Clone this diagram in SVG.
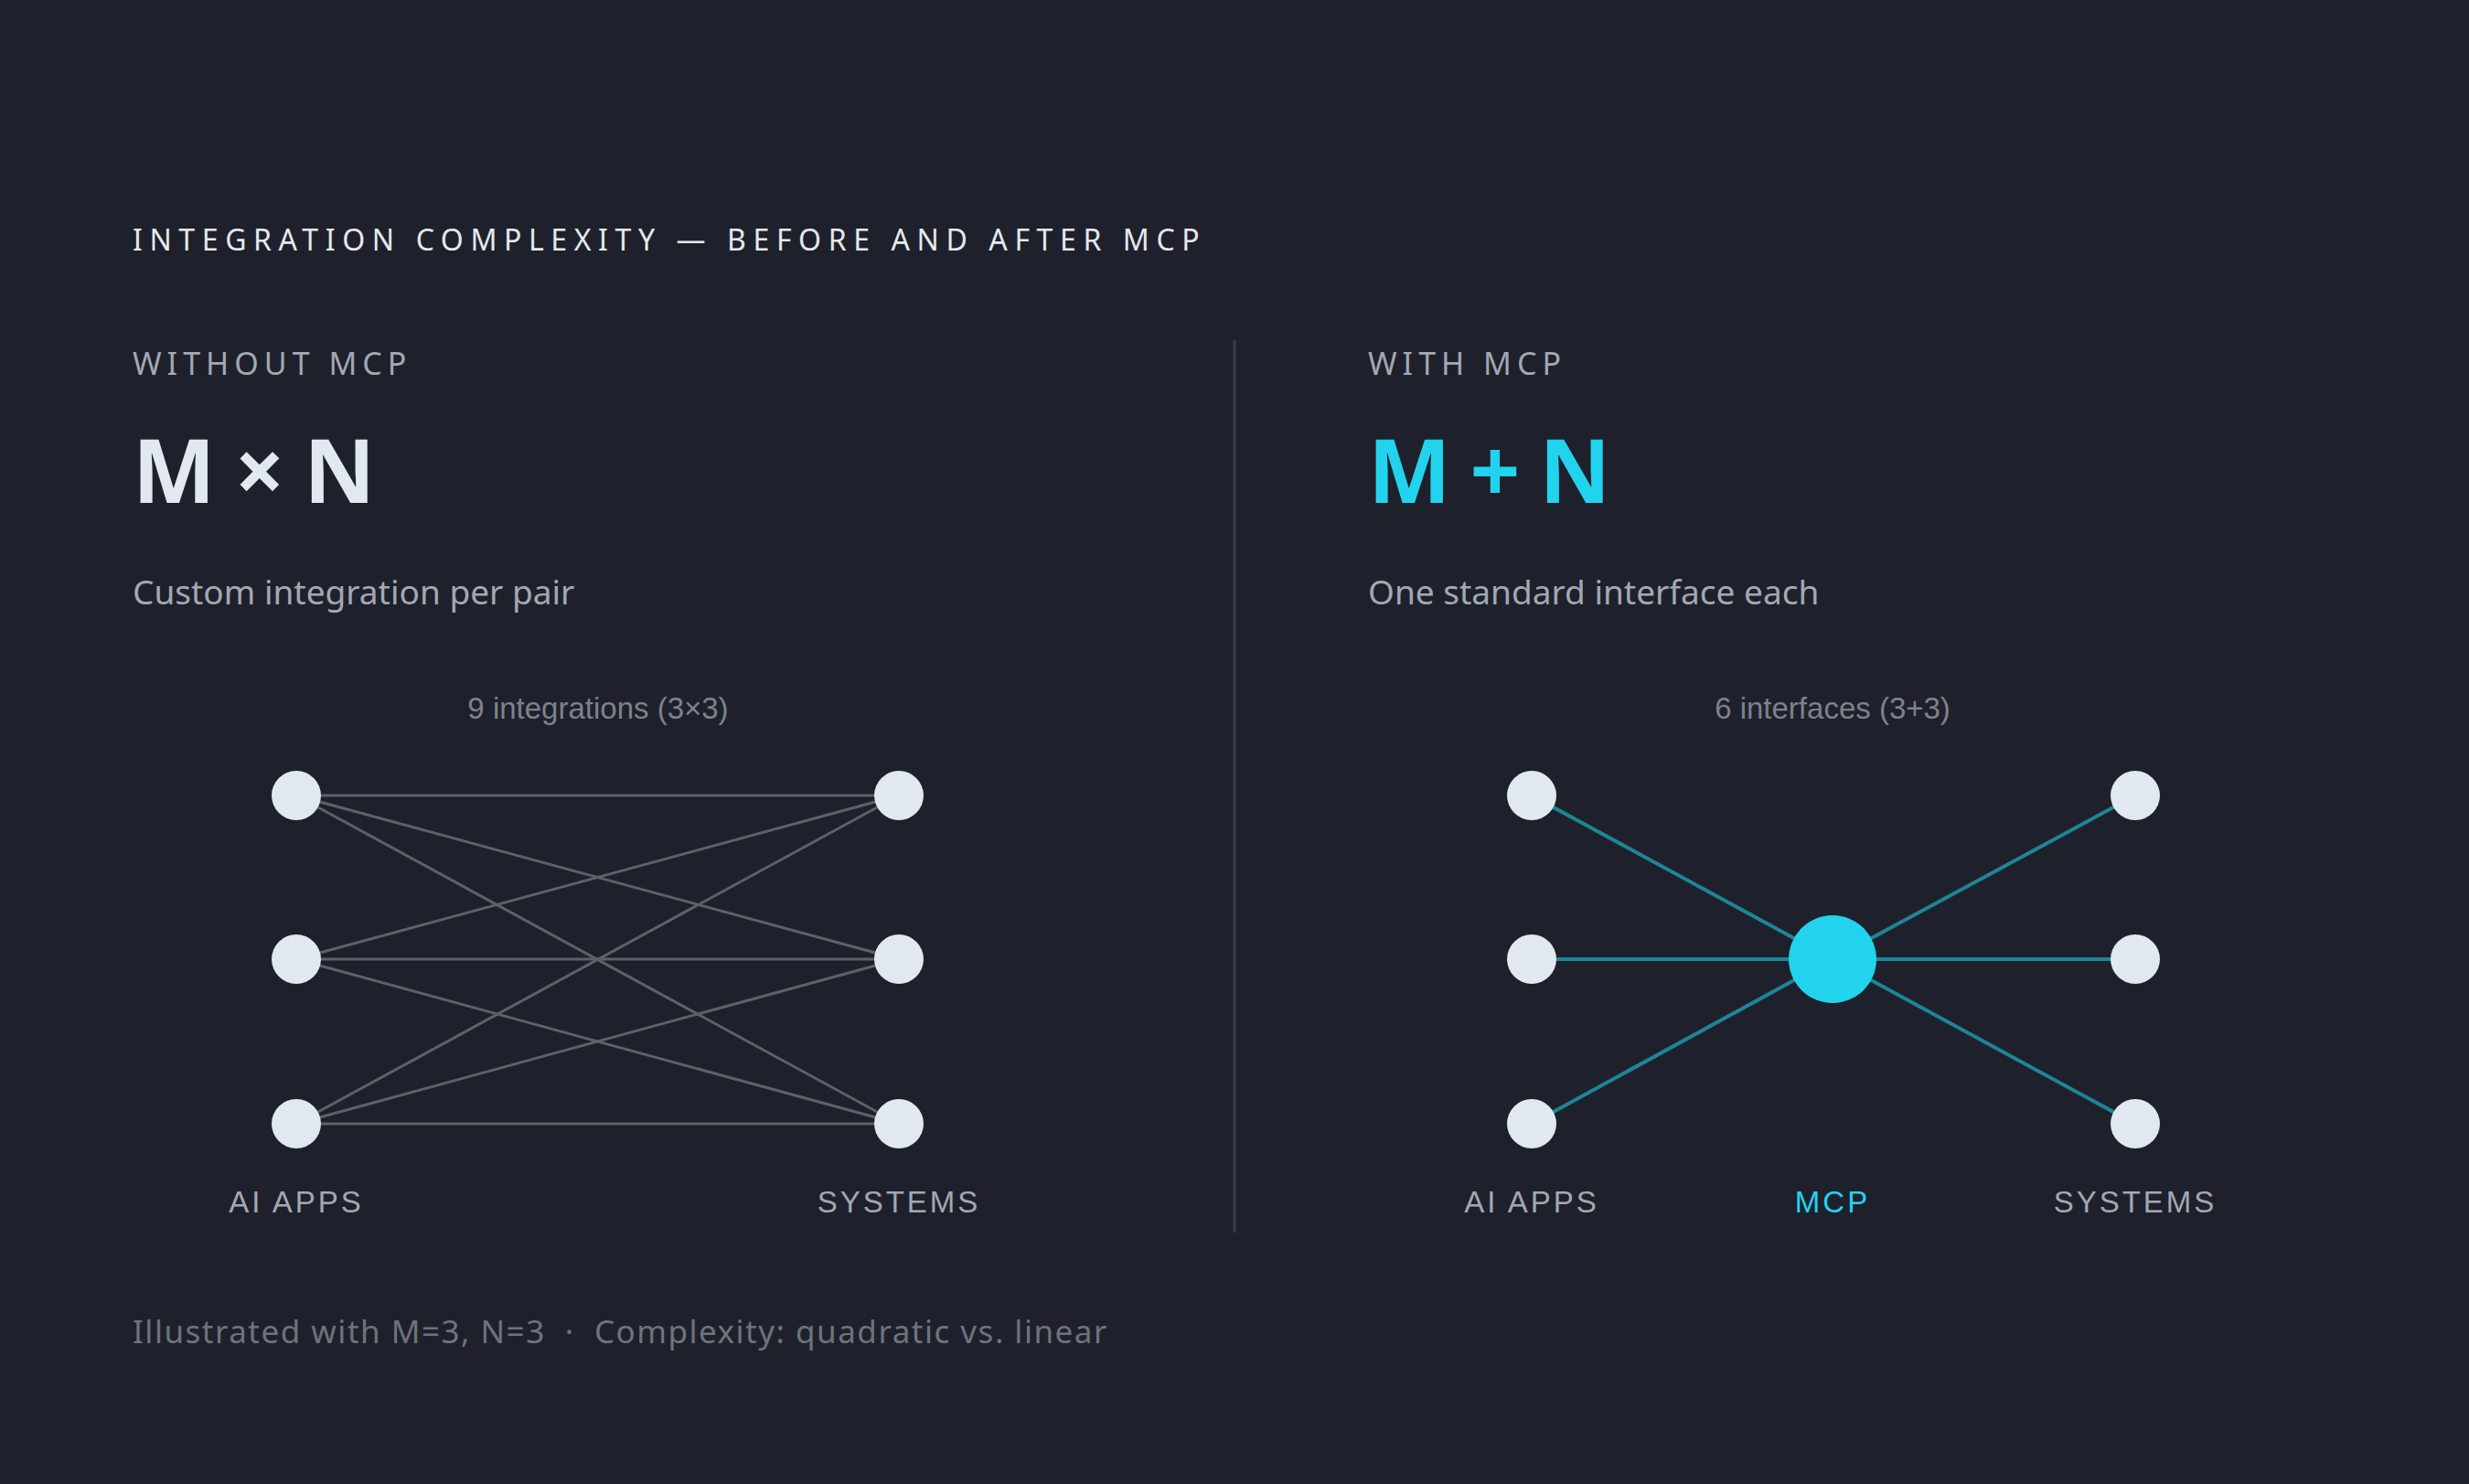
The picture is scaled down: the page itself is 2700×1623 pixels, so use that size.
<svg xmlns="http://www.w3.org/2000/svg" width="2700" height="1623" viewBox="0 0 2700 1623">
<style>
.t{font-family:"Noto Sans","Liberation Sans",sans-serif}
.cap{font-size:34px;fill:#a3a8b3;letter-spacing:6px}
.big{font-size:96px;font-weight:700;letter-spacing:-2px}
.sub{font-size:37px;fill:#a3a8b3}
.cnt{font-family:"Liberation Sans",sans-serif;font-size:33px;fill:#7d828c;text-anchor:middle}
.lbl{font-family:"Liberation Sans",sans-serif;font-size:33px;fill:#a3a8b3;letter-spacing:3px;text-anchor:middle}
.n{fill:#e2e8f0}
.gl{stroke:#5d6169;stroke-width:3}
.tl{stroke:#1e8597;stroke-width:4}
</style>
<rect width="2700" height="1623" fill="#1e212b"/>
<text class="t" x="145" y="274" font-size="32" fill="#e6e8ee" letter-spacing="7.6">INTEGRATION COMPLEXITY — BEFORE AND AFTER MCP</text>
<line x1="1350" y1="372" x2="1350" y2="1348" stroke="#3a3e48" stroke-width="3"/>
<text class="t cap" x="145" y="410">WITHOUT MCP</text>
<text class="t big" x="145" y="550" fill="#e2e8f0">M × N</text>
<text class="t sub" x="145" y="661">Custom integration per pair</text>
<text class="cnt" x="654" y="786">9 integrations (3×3)</text>
<text class="t cap" x="1496" y="410">WITH MCP</text>
<text class="t big" x="1496" y="550" fill="#22d3ee">M + N</text>
<text class="t sub" x="1496" y="661">One standard interface each</text>
<text class="cnt" x="2004" y="786">6 interfaces (3+3)</text>
<g id="connectors">
<g class="gl">
<line x1="324" y1="870" x2="983" y2="870"/><line x1="324" y1="870" x2="983" y2="1049"/><line x1="324" y1="870" x2="983" y2="1229"/>
<line x1="324" y1="1049" x2="983" y2="870"/><line x1="324" y1="1049" x2="983" y2="1049"/><line x1="324" y1="1049" x2="983" y2="1229"/>
<line x1="324" y1="1229" x2="983" y2="870"/><line x1="324" y1="1229" x2="983" y2="1049"/><line x1="324" y1="1229" x2="983" y2="1229"/>
</g>
<g class="tl">
<line x1="1675" y1="870" x2="2004" y2="1049"/><line x1="1675" y1="1049" x2="2004" y2="1049"/><line x1="1675" y1="1229" x2="2004" y2="1049"/>
<line x1="2335" y1="870" x2="2004" y2="1049"/><line x1="2335" y1="1049" x2="2004" y2="1049"/><line x1="2335" y1="1229" x2="2004" y2="1049"/>
</g>
</g>
<g id="left-apps"><circle class="n" cx="324" cy="870" r="27"/><circle class="n" cx="324" cy="1049" r="27"/><circle class="n" cx="324" cy="1229" r="27"/></g>
<g id="left-systems"><circle class="n" cx="983" cy="870" r="27"/><circle class="n" cx="983" cy="1049" r="27"/><circle class="n" cx="983" cy="1229" r="27"/></g>
<g id="right-apps"><circle class="n" cx="1675" cy="870" r="27"/><circle class="n" cx="1675" cy="1049" r="27"/><circle class="n" cx="1675" cy="1229" r="27"/></g>
<g id="right-systems"><circle class="n" cx="2335" cy="870" r="27"/><circle class="n" cx="2335" cy="1049" r="27"/><circle class="n" cx="2335" cy="1229" r="27"/></g>
<g id="mcp"><circle cx="2004" cy="1049" r="48" fill="#22d3ee"/></g>
<text class="lbl" x="324" y="1326">AI APPS</text>
<text class="lbl" x="983" y="1326">SYSTEMS</text>
<text class="lbl" x="1675" y="1326">AI APPS</text>
<text class="lbl" x="2004" y="1326" style="fill:#22d3ee">MCP</text>
<text class="lbl" x="2335" y="1326">SYSTEMS</text>
<text class="t" x="145" y="1469" font-size="35" fill="#6e737d" letter-spacing="1.5">Illustrated with M=3, N=3 &#160;·&#160; Complexity: quadratic vs. linear</text>
</svg>
